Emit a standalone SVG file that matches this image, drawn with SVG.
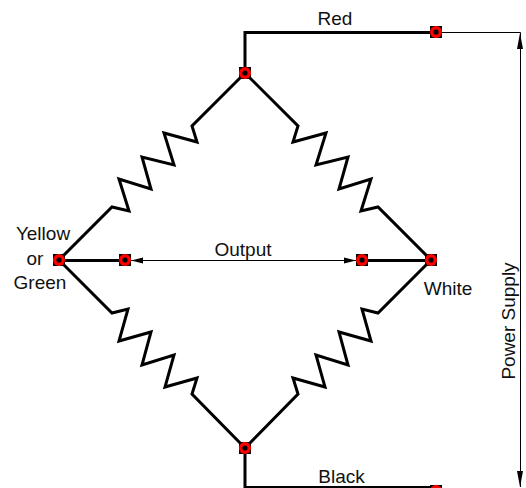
<svg xmlns="http://www.w3.org/2000/svg" width="526" height="488" viewBox="0 0 526 488">
<style>
text{font-family:"Liberation Sans",Arial,sans-serif;font-size:19px;fill:#111;text-anchor:middle}
.w{fill:none;stroke:#000;stroke-width:3;stroke-linejoin:miter;stroke-linecap:butt}
.t{fill:none;stroke:#000;stroke-width:1}
.a{fill:#000;stroke:none}
</style>
<defs>
<g id="term"><rect x="-6" y="-6" width="12" height="12" fill="#000"/><circle r="6" fill="#f00"/><circle r="2.600" fill="#000"/></g>
</defs>
<rect width="526" height="488" fill="#fff"/>
<g id="connectors">
<path class="w" d="M245 73V32.500H436"/>
<path class="w" d="M245 73L192 126L197 142L164 133L174 165L142 157L151 189L119 179L129 211L112 207L59 260"/>
<path class="w" d="M245 73L298 126L293 142L326 133L316 165L348 157L339 189L371 179L361 211L378 207L431 260"/>
<path class="w" d="M59 260L112 313L128 309L119 341L151 332L142 365L174 355L165 387L197 378L192 394L245 448"/>
<path class="w" d="M431 260L378 313L362 309L371 341L339 332L348 365L316 355L325 387L293 378L298 394L245 448"/>
<path class="w" d="M59 260.500H125M362 260.500H431"/>
<path class="w" d="M245 448V487.500H436"/>
<path class="t" d="M131 260.500H356M436 32.500H520.500V487"/>
<path class="a" d="M131 260.500L143 257.500V263.500Z"/>
<path class="a" d="M356 260.500L344 257.500V263.500Z"/>
<path class="a" d="M520 33L517 49H523Z"/>
<path class="a" d="M520 487L517 471H523Z"/>
</g>
<g id="n-top"><use href="#term" x="245" y="73"/></g>
<g id="n-red"><use href="#term" x="436" y="32"/></g>
<g id="n-left"><use href="#term" x="59" y="260"/></g>
<g id="n-out-left"><use href="#term" x="125" y="260"/></g>
<g id="n-out-right"><use href="#term" x="362" y="260"/></g>
<g id="n-right"><use href="#term" x="431" y="260"/></g>
<g id="n-bottom"><use href="#term" x="245" y="448"/></g>
<g id="n-black"><use href="#term" x="436" y="491"/></g>
<g id="labels">
<text x="335" y="25">Red</text>
<text x="43" y="240">Yellow</text>
<text x="35" y="265">or</text>
<text x="40" y="289">Green</text>
<text x="243" y="256">Output</text>
<text x="448" y="295">White</text>
<text x="341.500" y="483">Black</text>
<text transform="translate(515 321) rotate(-90)">Power Supply</text>
</g>
</svg>
